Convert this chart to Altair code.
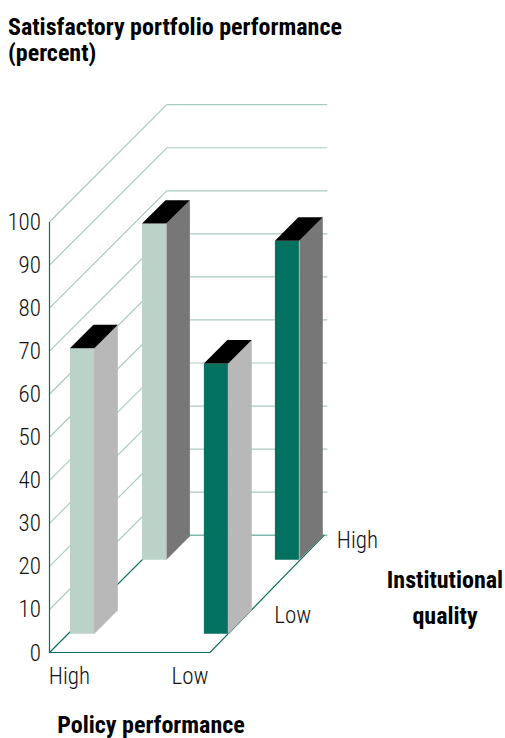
import altair as alt
import pandas as pd

# Satisfactory portfolio performance by policy performance and institutional quality
performance = [66.3, 78.1, 62.8, 74.1]
policy_offset = [1.06, -0.1, 84.5, 82.7]
depth_position = [0.16, 0.79, 0.16, 0.79]
front_colors = ["#bbd2c9", "#bbd2c9", "#02715f", "#02715f"]
side_colors = ["#b8b8b8", "#777777", "#b8b8b8", "#777777"]
top_color = "#000000"
tick_values = list(range(0, 101, 10))

# Oblique projection: going back one full depth shifts x (floor units) and y (percent)
FLOOR_W = 100.0
SHIFT_X = 73.1
SHIFT_Y = 27.25
BAR_W = 15.2
BAR_D = 0.2
X_DOMAIN = [-30.84, 283.8]
Y_DOMAIN = [-19.86, 151.57]


def project(px, depth, value):
    return px + depth * SHIFT_X, value + depth * SHIFT_Y


def line_rows(name, points):
    return [dict(line=name, step=i, x=p[0], y=p[1]) for i, p in enumerate(points)]


def height_on(path, x):
    """Height of a left-to-right polyline at x."""
    for (x0, y0), (x1, y1) in zip(path, path[1:]):
        if x <= x1:
            return y0 + (y1 - y0) * (x - x0) / (x1 - x0)
    return path[-1][1]


def face_rows(name, color, lower, upper, order):
    """Area rows for a convex face given its lower and upper outlines."""
    xs = sorted({p[0] for p in lower + upper})
    return [
        dict(face=name, fill=color, x=x, y=height_on(lower, x), y2=height_on(upper, x), rank=order)
        for x in xs
    ]


# Walls: a diagonal on the left wall and a horizontal on the back wall for every tick
wall = []
for v in tick_values[1:]:
    wall += line_rows(f"wall{v}", [project(0, 0, v), project(0, 1, v), project(FLOOR_W, 1, v)])
floor_back = line_rows("back", [project(0, 1, 0), project(FLOOR_W, 1, 0)])
floor_edges = line_rows(
    "floor",
    [project(0, 0, 100), project(0, 0, 0), project(FLOOR_W, 0, 0), project(FLOOR_W - 1.9, 1, 0)],
) + line_rows("diag", [project(0, 0, 0), project(0, 1, 0)])

# Bars as three faces each, listed back row first so the front row hides it
faces = []
seams = []
for rank, i in enumerate([1, 3, 0, 2]):
    v = performance[i]
    x0, y0 = project(policy_offset[i], depth_position[i], 0)
    x1 = x0 + BAR_W
    xs = x0 + BAR_D * SHIFT_X
    x2 = x1 + BAR_D * SHIFT_X
    dy = BAR_D * SHIFT_Y
    faces += face_rows(
        f"front{i}", front_colors[i], [(x0, y0), (x1, y0)], [(x0, y0 + v), (x1, y0 + v)], rank
    )
    faces += face_rows(
        f"side{i}", side_colors[i], [(x1, y0), (x2, y0 + dy)], [(x1, y0 + v), (x2, y0 + v + dy)], rank
    )
    faces += face_rows(
        f"top{i}",
        top_color,
        [(x0, y0 + v), (x1, y0 + v), (x2, y0 + v + dy)],
        [(x0, y0 + v), (xs, y0 + v + dy), (x2, y0 + v + dy)],
        rank,
    )
    seams.append((rank, line_rows(f"seam{i}", [(x1, y0), (x1, y0 + v)])))

x_scale = alt.Scale(domain=X_DOMAIN, nice=False, zero=False)
y_scale = alt.Scale(domain=Y_DOMAIN, nice=False, zero=False)
X = alt.X("x:Q", scale=x_scale, axis=None)
Y = alt.Y("y:Q", scale=y_scale, axis=None, stack=None)


def lines(rows, color, width):
    return (
        alt.Chart(pd.DataFrame(rows))
        .mark_line(color=color, strokeWidth=width)
        .encode(x=X, y=Y, detail="line:N", order="step:Q")
    )


layers = [
    lines(wall, "#a9cabf", 1.2),
    lines(floor_back, "#7fb8ac", 1.4),
    lines(floor_edges, "#0b6f5f", 1.2),
]
faces_df = pd.DataFrame(faces)
for rank in range(4):
    for prefix in ("front", "side", "top"):
        part = faces_df[(faces_df["rank"] == rank) & faces_df["face"].str.startswith(prefix)]
        layers.append(
            alt.Chart(part)
            .mark_area(interpolate="linear")
            .encode(x=X, y=Y, y2="y2:Q", fill=alt.Fill("fill:N", scale=None))
        )
    layers.append(lines(seams[rank][1], "#b8b8b8", 0.9))

LABEL_FONT = "Roboto Condensed"

# Percent tick labels sit just left of the wall's front edge
tick_df = pd.DataFrame({"y": tick_values, "x": [-5.3] * len(tick_values), "t": [str(v) for v in tick_values]})
layers.append(
    alt.Chart(tick_df)
    .mark_text(font=LABEL_FONT, fontSize=23, fontWeight=300, align="right", baseline="middle", dy=1, color="#111111")
    .encode(x=X, y=Y, text="t:N")
)

# Category labels along the two floor edges
cat_df = pd.DataFrame(
    [
        dict(x=-0.4, y=-5.8, t="High"),
        dict(x=76.0, y=-5.8, t="Low"),
        dict(x=179.0, y=26.0, t="High"),
        dict(x=140.0, y=8.5, t="Low"),
    ]
)
layers.append(
    alt.Chart(cat_df)
    .mark_text(font=LABEL_FONT, fontSize=23, fontWeight=300, align="left", baseline="middle", color="#111111")
    .encode(x=X, y=Y, text="t:N")
)

# Bold titles
titles = [
    ("Satisfactory portfolio performance", 8, 28, "left"),
    ("(percent)", 8, 54, "left"),
    ("Institutional", 445, 581, "center"),
    ("quality", 445, 617, "center"),
    ("Policy performance", 151, 726, "center"),
]
for text, tx, ty, al in titles:
    layers.append(
        alt.Chart(pd.DataFrame({"t": [text]}))
        .mark_text(font=LABEL_FONT, fontSize=24, fontWeight="bold", align=al, baseline="middle", color="#000000")
        .encode(x=alt.value(tx), y=alt.value(ty), text="t:N")
    )

chart = (
    alt.layer(*layers)
    .properties(width=505, height=738, padding=0, autosize=alt.AutoSizeParams(type="none"), background="#ffffff")
    .configure_view(stroke=None)
)

chart.save("out.html", embed_options={"renderer": "svg", "actions": False})
